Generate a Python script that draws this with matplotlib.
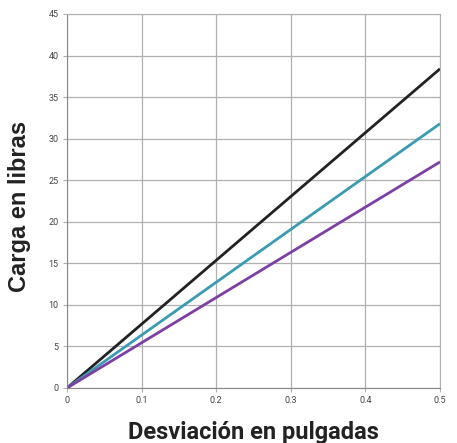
import numpy as np
import matplotlib.pyplot as plt

deflection = [0.0, 0.5]
load_black = [0.0, 38.4]
load_teal = [0.0, 31.8]
load_purple = [0.0, 27.2]

xticks = [0, 0.1, 0.2, 0.3, 0.4, 0.5]
xticklabels = ['0', '0.1', '0.2', '0.3', '0.4', '0.5']
yticks = [0, 5, 10, 15, 20, 25, 30, 35, 40, 45]

fig = plt.figure(figsize=(4.57, 4.43), dpi=100)
ax = fig.add_axes([0.1466, 0.1242, 0.8162, 0.8442])

ax.plot(deflection, load_black, color='#222222', lw=2.0, solid_capstyle='butt')
ax.plot(deflection, load_teal, color='#3a9bb2', lw=2.0, solid_capstyle='butt')
ax.plot(deflection, load_purple, color='#7d3fa3', lw=2.0, solid_capstyle='butt')

ax.set_xlim(0, 0.5)
ax.set_ylim(0, 45)
ax.set_xticks(xticks)
ax.set_xticklabels(xticklabels)
ax.set_yticks(yticks)
ax.grid(True, color='#b0b0b0', lw=0.9)
ax.set_axisbelow(True)
for s in ax.spines.values():
    s.set_color('#b0b0b0')
ax.spines['left'].set_color('#888888')
ax.spines['bottom'].set_color('#888888')
ax.tick_params(length=3, color='#b0b0b0', labelsize=6.5, labelcolor='#444444', pad=3)
for lab in ax.get_xticklabels() + ax.get_yticklabels():
    lab.set_family('Roboto')

ax.set_xlabel('Desviación en pulgadas', family='Roboto', weight='bold',
              fontsize=17, color='#222222', labelpad=11)
ax.set_ylabel('Carga en libras', family='Liberation Sans', weight='bold',
              fontsize=17, color='#222222')
ax.yaxis.set_label_coords(-0.097, 0.485)

fig.savefig('out.png', dpi=100)
